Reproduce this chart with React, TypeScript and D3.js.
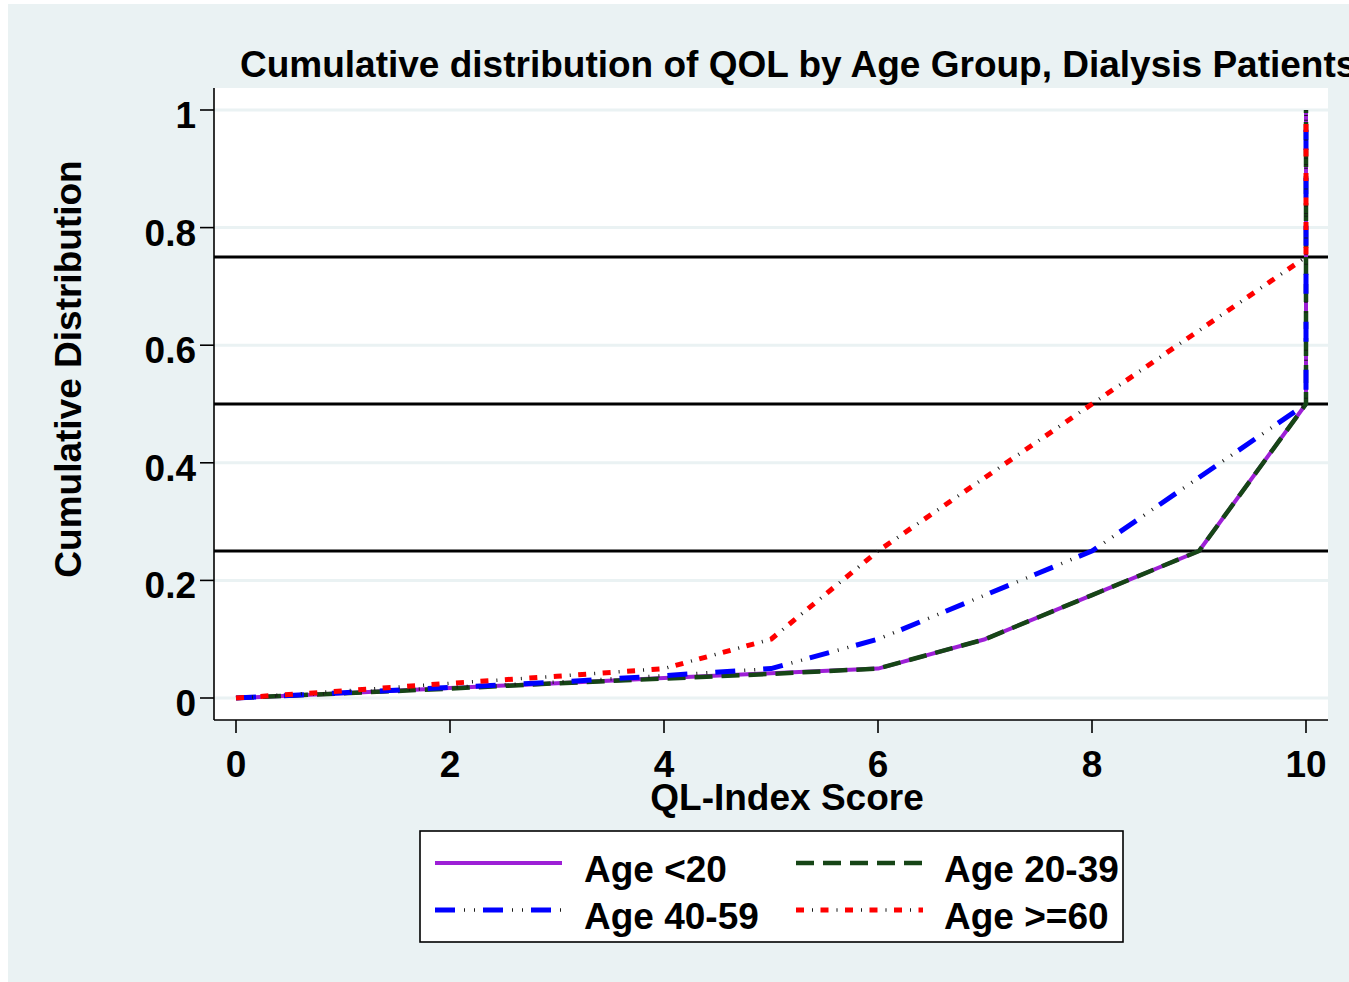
import React from 'react';
import * as d3 from 'd3';

// QL-Index score values where the empirical CDF is read (last point repeats 10 for the jump to 1)
const scores = [0, 1, 2, 3, 4, 5, 6, 7, 8, 9, 10, 10];
const ageUnder20 = [0, 0.008, 0.017, 0.025, 0.034, 0.042, 0.05, 0.1, 0.175, 0.25, 0.5, 1];
const age20to39 = [0, 0.008, 0.016, 0.025, 0.033, 0.041, 0.05, 0.1, 0.175, 0.25, 0.5, 1];
const age40to59 = [0, 0.009, 0.018, 0.027, 0.038, 0.05, 0.1, 0.175, 0.25, 0.375, 0.5, 1];
const age60plus = [0, 0.012, 0.025, 0.037, 0.05, 0.1, 0.25, 0.375, 0.5, 0.625, 0.75, 1];

const yTicks = [0, 0.2, 0.4, 0.6, 0.8, 1];
const xTicks = [0, 2, 4, 6, 8, 10];
const quartiles = [0.25, 0.5, 0.75];

const BG = '#EAF2F3';
const FONT = '"Liberation Sans", Arial, Helvetica, sans-serif';
const FS = 37;

type Style = { color: string; width: number; dash?: string; dots?: string };

const series: { name: string; values: number[]; style: Style }[] = [
  { name: 'Age <20', values: ageUnder20, style: { color: '#9D1FD6', width: 4 } },
  { name: 'Age 20-39', values: age20to39, style: { color: '#164516', width: 4.5, dash: '18 9' } },
  { name: 'Age 40-59', values: age40to59, style: { color: '#0000FF', width: 5, dash: '20 28', dots: '0 29 1 9 1 8' } },
  { name: 'Age >=60', values: age60plus, style: { color: '#FF0000', width: 5, dash: '8 16.5', dots: '0 16 1 7.5' } },
];

// plot region
const left = 214;
const right = 1328;
const top = 88;
const bottom = 720;

function StyledPath({ d, style }: { d: string; style: Style }) {
  return (
    <g>
      <path d={d} fill="none" stroke={style.color} strokeWidth={style.width}
        strokeDasharray={style.dash} strokeLinejoin="round" />
      {style.dots && (
        <path d={d} fill="none" stroke="#1a1a1a" strokeWidth={3.5}
          strokeDasharray={style.dots} strokeLinejoin="round" />
      )}
    </g>
  );
}

export default function App() {
  const x = d3.scaleLinear().domain([0, 10]).range([236, 1306]);
  const y = d3.scaleLinear().domain([0, 1]).range([698, 110]);

  const line = d3.line<number>()
    .x((_, i) => x(scores[i]))
    .y(v => y(v));

  const legendRows = [
    { cx: 435, tx: 584, ly: 863, ty: 882 },
    { cx: 796, tx: 944, ly: 863, ty: 882 },
    { cx: 435, tx: 584, ly: 910, ty: 929 },
    { cx: 796, tx: 944, ly: 910, ty: 929 },
  ];

  return (
    <div style={{ position: 'absolute', left: 0, top: 0 }}>
      <svg width={1349} height={982} style={{ display: 'block', fontFamily: FONT }}>
        <rect x={0} y={0} width={1349} height={982} fill="#fff" />
        <rect x={8} y={4} width={1341} height={978} fill={BG} />

        {/* plot region */}
        <rect x={left} y={top} width={right - left} height={bottom - top} fill="#fff" />

        {/* gridlines */}
        {yTicks.map(t => (
          <line key={t} x1={left} x2={right} y1={y(t)} y2={y(t)} stroke={BG} strokeWidth={3} />
        ))}

        {/* quartile reference lines */}
        {quartiles.map(q => (
          <line key={q} x1={left} x2={right} y1={y(q)} y2={y(q)} stroke="#000" strokeWidth={3} />
        ))}

        {/* series */}
        {series.map(s => (
          <StyledPath key={s.name} d={line(s.values) || ''} style={s.style} />
        ))}

        {/* axes */}
        <line x1={left} x2={left} y1={top} y2={bottom} stroke="#000" strokeWidth={1.6} />
        <line x1={left} x2={right} y1={bottom} y2={bottom} stroke="#000" strokeWidth={1.6} />

        {yTicks.map(t => (
          <g key={t}>
            <line x1={200} x2={left} y1={y(t)} y2={y(t)} stroke="#000" strokeWidth={1.6} />
            <text x={196} y={y(t) + 18} textAnchor="end" fontSize={FS} fontWeight="bold">
              {d3.format('~g')(t)}
            </text>
          </g>
        ))}

        {xTicks.map(t => (
          <g key={t}>
            <line x1={x(t)} x2={x(t)} y1={bottom} y2={733} stroke="#000" strokeWidth={1.6} />
            <text x={x(t)} y={777} textAnchor="middle" fontSize={FS} fontWeight="bold">
              {t}
            </text>
          </g>
        ))}

        {/* titles */}
        <text x={240} y={77} fontSize={FS} fontWeight="bold">
          Cumulative distribution of QOL by Age Group, Dialysis Patients
        </text>
        <text x={787} y={810} textAnchor="middle" fontSize={FS} fontWeight="bold">
          QL-Index Score
        </text>
        <text transform="translate(81,369) rotate(-90)" textAnchor="middle" fontSize={FS} fontWeight="bold">
          Cumulative Distribution
        </text>

        {/* legend */}
        <rect x={420} y={831} width={703} height={111} fill="#fff" stroke="#000" strokeWidth={1.6} />
        {series.map((s, i) => {
          const r = legendRows[i];
          return (
            <g key={s.name}>
              <StyledPath d={`M${r.cx},${r.ly}H${r.cx + 127}`} style={s.style} />
              <text x={r.tx} y={r.ty} fontSize={FS} fontWeight="bold">{s.name}</text>
            </g>
          );
        })}
      </svg>
    </div>
  );
}
